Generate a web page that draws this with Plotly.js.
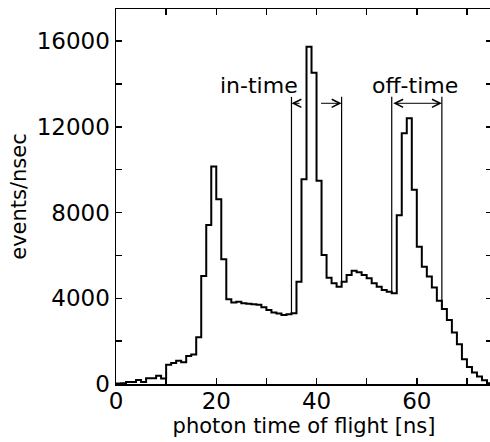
<!DOCTYPE html>
<html>
<head>
<meta charset="utf-8">
<script src="https://cdn.plot.ly/plotly-3.0.1.min.js"></script>
<style>
html, body { margin: 0; padding: 0; overflow: hidden; background: #fff; }
#chart { width: 492px; height: 442px; }
</style>
</head>
<body>
<div id="chart"></div>
<script>
// photon time of flight bins (ns, left edge of each 1 ns bin)
const binLeft = [0,1,2,3,4,5,6,7,8,9,10,11,12,13,14,15,16,17,18,19,
  20,21,22,23,24,25,26,27,28,29,30,31,32,33,34,35,36,37,38,39,
  40,41,42,43,44,45,46,47,48,49,50,51,52,53,54,55,56,57,58,59,
  60,61,62,63,64,65,66,67,68,69,70,71,72,73,74];
const binWidth = 1;
// events/nsec per bin
const events = [20,30,90,90,190,90,270,270,380,260,
  900,980,1080,1010,1310,1380,2180,5040,7420,10150,
  8620,5820,3950,3800,3840,3770,3740,3720,3700,3580,
  3450,3340,3290,3220,3260,3300,4770,9550,15740,14530,
  9490,6020,4960,4700,4540,4770,5090,5290,5220,5090,
  4930,4700,4540,4390,4300,4230,7870,11700,12400,9060,
  6410,5470,5020,4500,3880,3500,2990,2400,1860,1150,
  790,540,350,170,30];

// window markers
const windowEdges = [35, 45, 55, 65];
const markerTop = 13400;
const arrowLevel = 13100;
const inTimeLabel = "in-time";
const offTimeLabel = "off-time";
const inTimeLabelX = 28.6;
const offTimeLabelX = 59.6;
const labelLevel = 13930;
const inTimeLeftArrowEnd = 36.9;
const inTimeRightArrowStart = 40.6;

const xTickVals = [0,10,20,30,40,50,60,70];
const xTickText = ["0","","20","","40","","60",""];
const yTickVals = [0,2000,4000,6000,8000,10000,12000,14000,16000];
const yTickText = ["0","","4000","","8000","","12000","","16000"];

// step-curve points from bins
const stepX = binLeft.concat([binLeft[binLeft.length-1] + binWidth]);
const stepY = events.concat([events[events.length-1]]);

const traces = [{
  type: 'scatter', mode: 'lines', x: stepX, y: stepY,
  line: {shape: 'hv', color: '#000', width: 2},
  hoverinfo: 'skip', showlegend: false
}];

// vertical window lines, from histogram up to markerTop
windowEdges.forEach(function (e) {
  const i = binLeft.indexOf(e);
  const bottom = Math.min(events[i], events[i-1]);
  traces.push({
    type: 'scatter', mode: 'lines', x: [e, e], y: [bottom, markerTop],
    line: {color: '#000', width: 1.2}, hoverinfo: 'skip', showlegend: false
  });
});

const font = "DejaVu Sans, Arial, sans-serif";
const arrowCommon = {axref: 'x', ayref: 'y', showarrow: true, arrowhead: 5,
  arrowsize: 1.6, arrowwidth: 1, arrowcolor: '#000', text: ''};

const annotations = [
  Object.assign({x: windowEdges[0], y: arrowLevel, ax: inTimeLeftArrowEnd, ay: arrowLevel}, arrowCommon),
  Object.assign({x: windowEdges[1], y: arrowLevel, ax: inTimeRightArrowStart, ay: arrowLevel}, arrowCommon),
  Object.assign({x: windowEdges[3], y: arrowLevel, ax: windowEdges[2], ay: arrowLevel, arrowside: 'end+start'}, arrowCommon),
  {x: inTimeLabelX, y: labelLevel, text: inTimeLabel, showarrow: false,
   xanchor: 'center', yanchor: 'middle', font: {family: font, size: 22, color: '#000'}},
  {x: offTimeLabelX, y: labelLevel, text: offTimeLabel, showarrow: false,
   xanchor: 'center', yanchor: 'middle', font: {family: font, size: 22, color: '#000'}}
];

const layout = {
  width: 492, height: 442,
  margin: {l: 116, r: 0, t: 9, b: 58},
  paper_bgcolor: '#fff', plot_bgcolor: '#fff',
  font: {family: font, color: '#000'},
  showlegend: false,
  xaxis: {
    range: [0, 75], tickmode: 'array', tickvals: xTickVals, ticktext: xTickText,
    ticks: 'inside', ticklen: 6, tickwidth: 1.5, tickcolor: '#000',
    showline: true, linewidth: 1.5, linecolor: '#000', mirror: 'ticks',
    showgrid: false, zeroline: false, ticklabelstandoff: -4,
    tickfont: {family: font, size: 23, color: '#000'},
    title: {text: 'photon time of flight [ns]', font: {family: font, size: 21, color: '#000'}, standoff: 3}
  },
  yaxis: {
    range: [0, 17500], tickmode: 'array', tickvals: yTickVals, ticktext: yTickText,
    ticks: 'inside', ticklen: 6, tickwidth: 1.5, tickcolor: '#000',
    showline: true, linewidth: 1.5, linecolor: '#000', mirror: 'ticks',
    showgrid: false, zeroline: false, ticklabelstandoff: 0,
    tickfont: {family: font, size: 23, color: '#000'},
    title: {text: 'events/nsec', font: {family: font, size: 21, color: '#000'}, standoff: 4}
  },
  annotations: annotations
};

Plotly.newPlot('chart', traces, layout, {staticPlot: true, displayModeBar: false});
</script>
</body>
</html>
